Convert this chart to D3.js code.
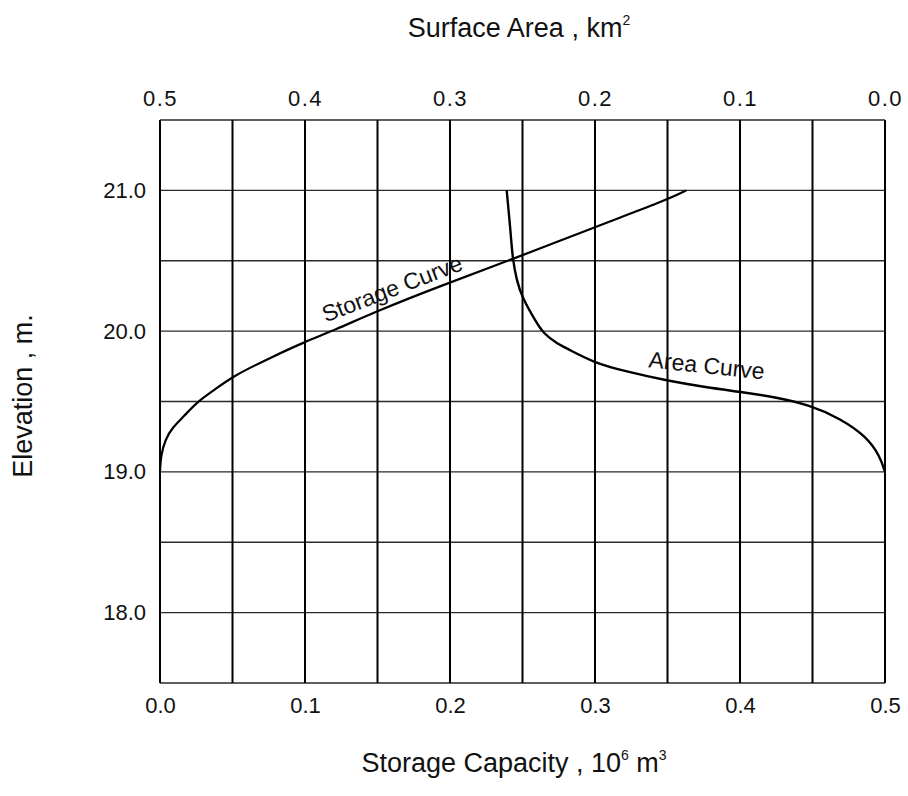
<!DOCTYPE html>
<html>
<head>
<meta charset="utf-8">
<script src="https://cdn.jsdelivr.net/npm/d3@7"></script>
<style>
  html, body { margin: 0; padding: 0; background: #fff; }
  svg { display: block; font-family: "Liberation Sans", Arial, sans-serif; }
</style>
</head>
<body>
<svg id="chart" width="908" height="796"></svg>
<script>
// Storage capacity curve (10^6 m^3 vs elevation m)
const storageElev = [19.0, 19.11, 19.23, 19.32, 19.39, 19.5, 19.57, 19.68, 19.82, 19.92, 20.01, 20.14, 20.32, 20.51, 20.74, 20.93, 21.0];
const storageVol  = [0.0, 0.0005, 0.0035, 0.009, 0.016, 0.026, 0.036, 0.05, 0.078, 0.099, 0.121, 0.149, 0.193, 0.243, 0.300, 0.349, 0.363];

// Surface area curve (km^2 vs elevation m)
const areaElev = [19.0, 19.11, 19.25, 19.38, 19.475, 19.534, 19.57, 19.60, 19.648, 19.712, 19.776, 19.878, 19.913, 19.985, 20.056, 20.245, 20.363, 20.51, 20.695, 21.0];
const areaVal  = [0.0, 0.0034, 0.0126, 0.031, 0.0517, 0.077, 0.101, 0.123, 0.1505, 0.178, 0.201, 0.2195, 0.2264, 0.2356, 0.2402, 0.2506, 0.254, 0.2568, 0.2581, 0.2609];

// Tick labels
const storageTicks = [0.0, 0.1, 0.2, 0.3, 0.4, 0.5];
const areaTicks = [0.5, 0.4, 0.3, 0.2, 0.1, 0.0];
const elevTicks = [18.0, 19.0, 20.0, 21.0];
const vGrid = d3.range(0, 11).map(i => i * 0.05);
const hGrid = d3.range(0, 9).map(i => 17.5 + i * 0.5);

const W = 908, H = 796;
const margin = { left: 160, right: 23, top: 120, bottom: 113 };
const svg = d3.select("#chart");

const x = d3.scaleLinear().domain([0, 0.5]).range([margin.left, W - margin.right]);
const xTop = d3.scaleLinear().domain([0.5, 0]).range([margin.left, W - margin.right]);
const y = d3.scaleLinear().domain([17.5, 21.5]).range([H - margin.bottom, margin.top]);

// Horizontal grid (thin, greyish)
svg.append("g").selectAll("line").data(hGrid).join("line")
  .attr("x1", x(0)).attr("x2", x(0.5))
  .attr("y1", d => y(d)).attr("y2", d => y(d))
  .attr("stroke", "#2a2a2a").attr("stroke-width", 1.4);

// Vertical grid (heavier, black)
svg.append("g").selectAll("line").data(vGrid).join("line")
  .attr("x1", d => x(d)).attr("x2", d => x(d))
  .attr("y1", y(17.5)).attr("y2", y(21.5))
  .attr("stroke", "#000").attr("stroke-width", 2);

// Axes with labels only
const tickFont = "22px";
const bottomAxis = svg.append("g")
  .attr("transform", `translate(0,${y(17.5)})`)
  .call(d3.axisBottom(x).tickValues(storageTicks).tickFormat(d3.format(".1f")).tickSize(0).tickPadding(14));
const topAxis = svg.append("g")
  .attr("transform", `translate(0,${y(21.5)})`)
  .call(d3.axisTop(xTop).tickValues(areaTicks).tickFormat(d3.format(".1f")).tickSize(0).tickPadding(14));
const leftAxis = svg.append("g")
  .attr("transform", `translate(${x(0)},0)`)
  .call(d3.axisLeft(y).tickValues(elevTicks).tickFormat(d3.format(".1f")).tickSize(0).tickPadding(14));

[bottomAxis, topAxis, leftAxis].forEach(g => {
  g.select(".domain").remove();
  g.selectAll("text").attr("font-size", tickFont).attr("fill", "#111")
    .attr("font-family", "'Liberation Sans', Arial, sans-serif");
});
topAxis.selectAll("text").attr("letter-spacing", "1.5px");

// Curves (smoothed through the read points)
const storageLine = d3.line()
  .x(d => x(d[0])).y(d => y(d[1]))
  .curve(d3.curveBasis);
const areaLine = d3.line()
  .x(d => xTop(d[0])).y(d => y(d[1]))
  .curve(d3.curveBasis);

svg.append("path")
  .datum(storageVol.map((v, i) => [v, storageElev[i]]))
  .attr("d", storageLine)
  .attr("fill", "none").attr("stroke", "#000").attr("stroke-width", 2.2);

svg.append("path")
  .datum(areaVal.map((v, i) => [v, areaElev[i]]))
  .attr("d", areaLine)
  .attr("fill", "none").attr("stroke", "#000").attr("stroke-width", 2.4);

// Curve labels
svg.append("text")
  .attr("transform", `translate(${x(0.162)},${y(20.25)}) rotate(-21)`)
  .attr("text-anchor", "middle")
  .attr("font-size", "23px").attr("fill", "#111")
  .text("Storage Curve");

svg.append("text")
  .attr("transform", `translate(${xTop(0.1235)},${y(19.7)}) rotate(6)`)
  .attr("text-anchor", "middle")
  .attr("font-size", "23px").attr("fill", "#111")
  .text("Area Curve");

// Axis titles
const topTitle = svg.append("text")
  .attr("x", 519).attr("y", 37)
  .attr("text-anchor", "middle").attr("font-size", "27px").attr("fill", "#111");
topTitle.append("tspan").text("Surface Area , km");
topTitle.append("tspan").attr("font-size", "14px").attr("dy", -12).text("2");

const bottomTitle = svg.append("text")
  .attr("x", 514).attr("y", 772)
  .attr("text-anchor", "middle").attr("font-size", "27px").attr("fill", "#111");
bottomTitle.append("tspan").text("Storage Capacity , 10");
bottomTitle.append("tspan").attr("font-size", "14px").attr("dy", -12).text("6");
bottomTitle.append("tspan").attr("dy", 12).text(" m");
bottomTitle.append("tspan").attr("font-size", "14px").attr("dy", -12).text("3");

svg.append("text")
  .attr("transform", `translate(32,396) rotate(-90)`)
  .attr("text-anchor", "middle").attr("font-size", "27px").attr("fill", "#111")
  .text("Elevation , m.");
</script>
</body>
</html>
